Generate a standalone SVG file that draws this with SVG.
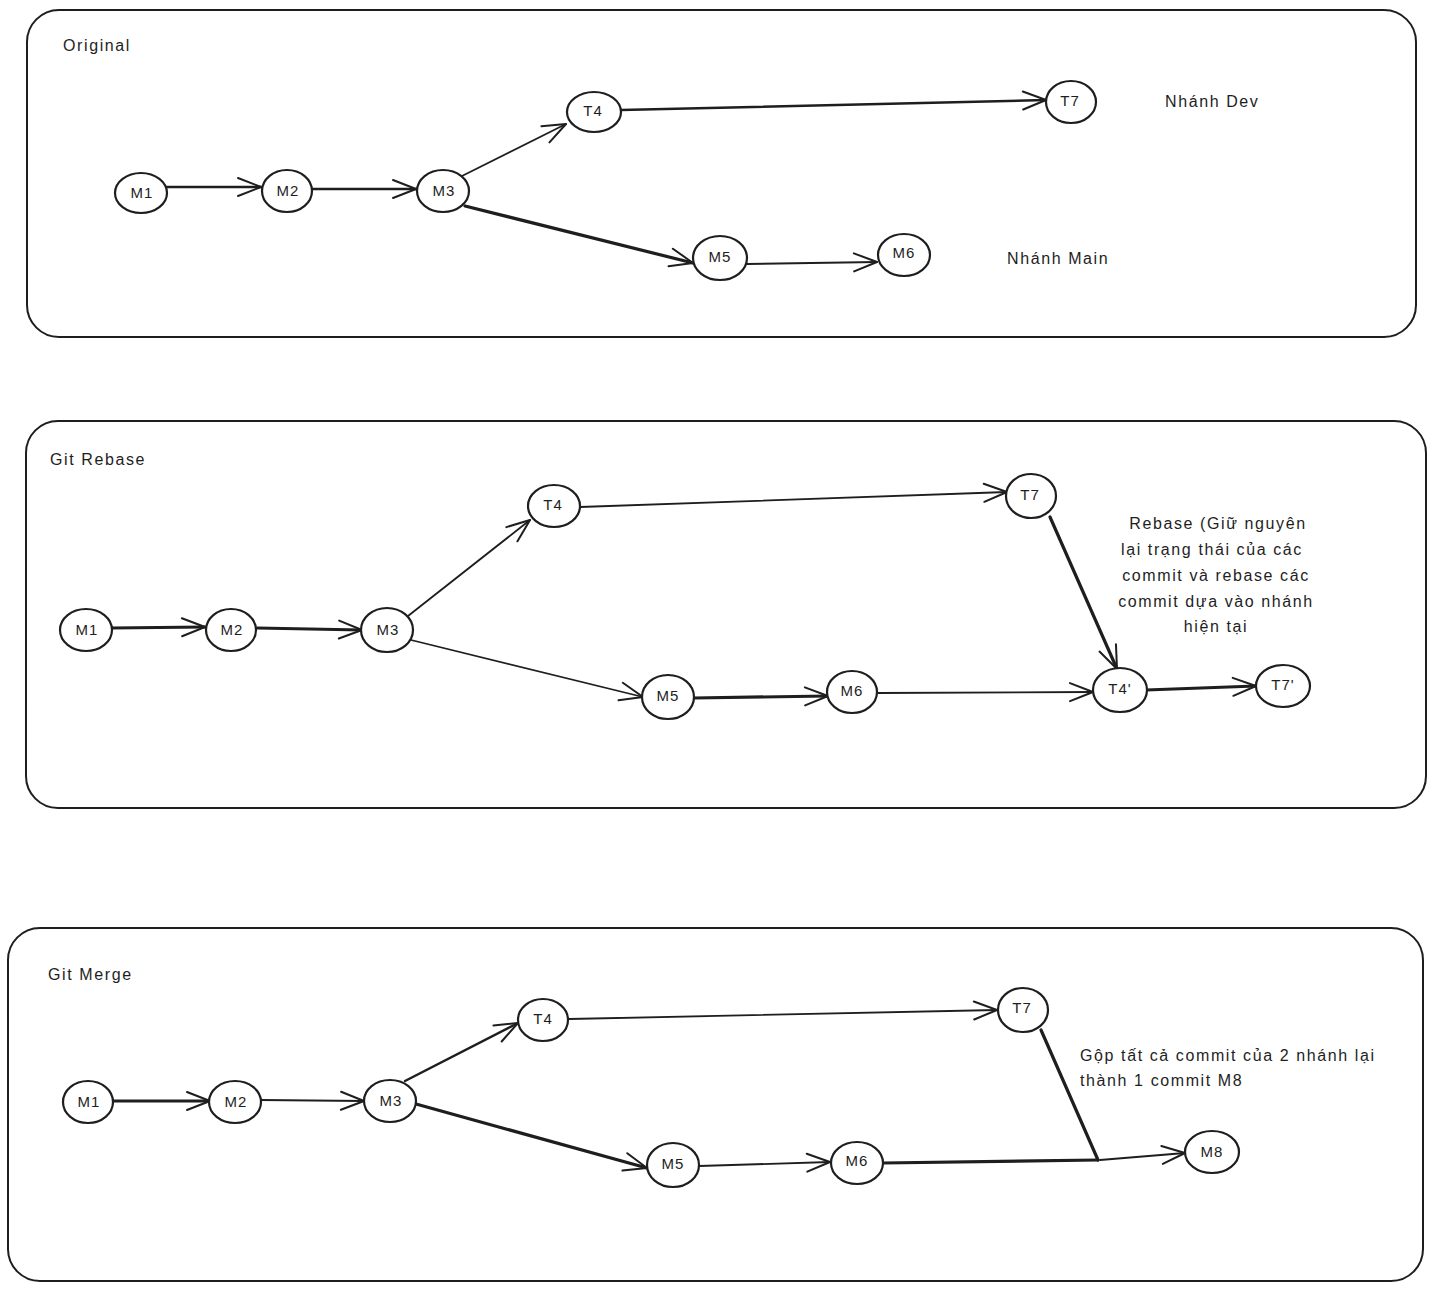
<svg xmlns="http://www.w3.org/2000/svg" width="1437" height="1292" viewBox="0 0 1437 1292">
<style>
.panel{fill:#ffffff;stroke:#1e1e1e;stroke-width:2}
.node ellipse{fill:#ffffff;stroke:#1e1e1e;stroke-width:2.2}
.lbl{font-family:"Liberation Sans",Arial,sans-serif;font-size:15px;fill:#1e1e1e;text-anchor:middle;letter-spacing:1px}
.txt{font-family:"Liberation Sans",Arial,sans-serif;font-size:16px;fill:#1e1e1e;letter-spacing:1.6px}
.ctr{text-anchor:middle}
.edge{fill:none;stroke:#1e1e1e;stroke-width:1.8;stroke-linecap:round}
.mid{stroke-width:2.5}
.thick{stroke-width:3.2}
.arr{marker-end:url(#ah)}
</style>
<defs>
<marker id="ah" markerUnits="userSpaceOnUse" markerWidth="28" markerHeight="24" refX="25" refY="12" orient="auto">
<path d="M2,3 L25,12 L2,21" fill="none" stroke="#1e1e1e" stroke-width="2" stroke-linecap="round" stroke-linejoin="round"/>
</marker>
</defs>
<rect width="1437" height="1292" fill="#ffffff"/>

<g id="panel-original">
<rect class="panel" x="27" y="10" width="1389" height="327" rx="32"/>
<text class="txt" x="63" y="51">Original</text>
<text class="txt" x="1165" y="107">Nhánh Dev</text>
<text class="txt" x="1007" y="264">Nhánh Main</text>
</g>
<g id="panel-rebase">
<rect class="panel" x="26" y="421" width="1400" height="387" rx="32"/>
<text class="txt" x="50" y="465">Git Rebase</text>
<text class="txt ctr" x="1218" y="529">Rebase (Giữ nguyên</text>
<text class="txt ctr" x="1212" y="555">lại trạng thái của các</text>
<text class="txt ctr" x="1216" y="581">commit và rebase các</text>
<text class="txt ctr" x="1216" y="607">commit dựa vào nhánh</text>
<text class="txt ctr" x="1216" y="632">hiện tại</text>
</g>
<g id="panel-merge">
<rect class="panel" x="8" y="928" width="1415" height="353" rx="32"/>
<text class="txt" x="48" y="980">Git Merge</text>
<text class="txt" x="1080" y="1061">Gộp tất cả commit của 2 nhánh lại</text>
<text class="txt" x="1080" y="1086">thành 1 commit M8</text>
</g>

<g id="connectors">
<!-- panel 1 -->
<line class="edge mid arr" x1="167" y1="187" x2="261" y2="187"/>
<line class="edge mid arr" x1="313" y1="189" x2="416" y2="189"/>
<line class="edge arr" x1="462" y1="176" x2="566" y2="124"/>
<line class="edge thick arr" x1="465" y1="206" x2="693" y2="263"/>
<line class="edge mid arr" x1="621" y1="110" x2="1046" y2="100"/>
<line class="edge arr" x1="747" y1="264" x2="877" y2="262"/>
<!-- panel 2 -->
<line class="edge thick arr" x1="112" y1="628" x2="205" y2="627"/>
<line class="edge thick arr" x1="257" y1="628" x2="362" y2="630"/>
<line class="edge arr" x1="408" y1="616" x2="530" y2="520"/>
<line class="edge arr" x1="411" y1="640" x2="643" y2="697"/>
<line class="edge arr" x1="580" y1="507" x2="1007" y2="492"/>
<line class="edge thick arr" x1="1050" y1="517" x2="1117" y2="669"/>
<line class="edge thick arr" x1="694" y1="698" x2="828" y2="696"/>
<line class="edge arr" x1="878" y1="693" x2="1093" y2="692"/>
<line class="edge thick arr" x1="1146" y1="690" x2="1256" y2="686"/>
<!-- panel 3 -->
<line class="edge thick arr" x1="113" y1="1101" x2="210" y2="1101"/>
<line class="edge arr" x1="261" y1="1100" x2="364" y2="1101"/>
<line class="edge mid arr" x1="405" y1="1081" x2="518" y2="1023"/>
<line class="edge thick arr" x1="416" y1="1104" x2="647" y2="1168"/>
<line class="edge arr" x1="569" y1="1019" x2="997" y2="1010"/>
<line class="edge thick" x1="1041" y1="1030" x2="1098" y2="1160"/>
<line class="edge thick" x1="883" y1="1163" x2="1098" y2="1160"/>
<line class="edge arr" x1="1100" y1="1160" x2="1185" y2="1153"/>
<line class="edge arr" x1="699" y1="1166" x2="830" y2="1162"/>
</g>

<!-- panel 1 nodes -->
<g id="p1-M1" class="node"><ellipse cx="141" cy="193" rx="26" ry="20"/><text class="lbl" x="142" y="198">M1</text></g>
<g id="p1-M2" class="node"><ellipse cx="287" cy="191" rx="25" ry="21"/><text class="lbl" x="288" y="196">M2</text></g>
<g id="p1-M3" class="node"><ellipse cx="443" cy="191" rx="26" ry="21"/><text class="lbl" x="444" y="196">M3</text></g>
<g id="p1-T4" class="node"><ellipse cx="594" cy="112" rx="27" ry="20"/><text class="lbl" x="593" y="116">T4</text></g>
<g id="p1-T7" class="node"><ellipse cx="1071" cy="102" rx="25" ry="21"/><text class="lbl" x="1070" y="106">T7</text></g>
<g id="p1-M5" class="node"><ellipse cx="720" cy="258" rx="27" ry="22"/><text class="lbl" x="720" y="262">M5</text></g>
<g id="p1-M6" class="node"><ellipse cx="904" cy="255" rx="26" ry="21"/><text class="lbl" x="904" y="258">M6</text></g>

<!-- panel 2 nodes -->
<g id="p2-M1" class="node"><ellipse cx="86" cy="630" rx="26" ry="21"/><text class="lbl" x="87" y="635">M1</text></g>
<g id="p2-M2" class="node"><ellipse cx="231" cy="630" rx="25" ry="21"/><text class="lbl" x="232" y="635">M2</text></g>
<g id="p2-M3" class="node"><ellipse cx="387" cy="630" rx="26" ry="22"/><text class="lbl" x="388" y="635">M3</text></g>
<g id="p2-T4" class="node"><ellipse cx="554" cy="506" rx="26" ry="21"/><text class="lbl" x="553" y="510">T4</text></g>
<g id="p2-T7" class="node"><ellipse cx="1031" cy="496" rx="25" ry="22"/><text class="lbl" x="1030" y="500">T7</text></g>
<g id="p2-M5" class="node"><ellipse cx="668" cy="697" rx="26" ry="22"/><text class="lbl" x="668" y="701">M5</text></g>
<g id="p2-M6" class="node"><ellipse cx="852" cy="692" rx="25" ry="21"/><text class="lbl" x="852" y="696">M6</text></g>
<g id="p2-T4p" class="node"><ellipse cx="1120" cy="690" rx="27" ry="22"/><text class="lbl" x="1120" y="694">T4'</text></g>
<g id="p2-T7p" class="node"><ellipse cx="1283" cy="686" rx="27" ry="21"/><text class="lbl" x="1283" y="690">T7'</text></g>

<!-- panel 3 nodes -->
<g id="p3-M1" class="node"><ellipse cx="88" cy="1102" rx="25" ry="21"/><text class="lbl" x="89" y="1107">M1</text></g>
<g id="p3-M2" class="node"><ellipse cx="235" cy="1102" rx="26" ry="21"/><text class="lbl" x="236" y="1107">M2</text></g>
<g id="p3-M3" class="node"><ellipse cx="390" cy="1101" rx="26" ry="21"/><text class="lbl" x="391" y="1106">M3</text></g>
<g id="p3-T4" class="node"><ellipse cx="543" cy="1020" rx="25" ry="21"/><text class="lbl" x="543" y="1024">T4</text></g>
<g id="p3-T7" class="node"><ellipse cx="1023" cy="1010" rx="25" ry="22"/><text class="lbl" x="1022" y="1013">T7</text></g>
<g id="p3-M5" class="node"><ellipse cx="673" cy="1165" rx="26" ry="22"/><text class="lbl" x="673" y="1169">M5</text></g>
<g id="p3-M6" class="node"><ellipse cx="857" cy="1163" rx="26" ry="21"/><text class="lbl" x="857" y="1166">M6</text></g>
<g id="p3-M8" class="node"><ellipse cx="1212" cy="1152" rx="27" ry="21"/><text class="lbl" x="1212" y="1157">M8</text></g>
</svg>
